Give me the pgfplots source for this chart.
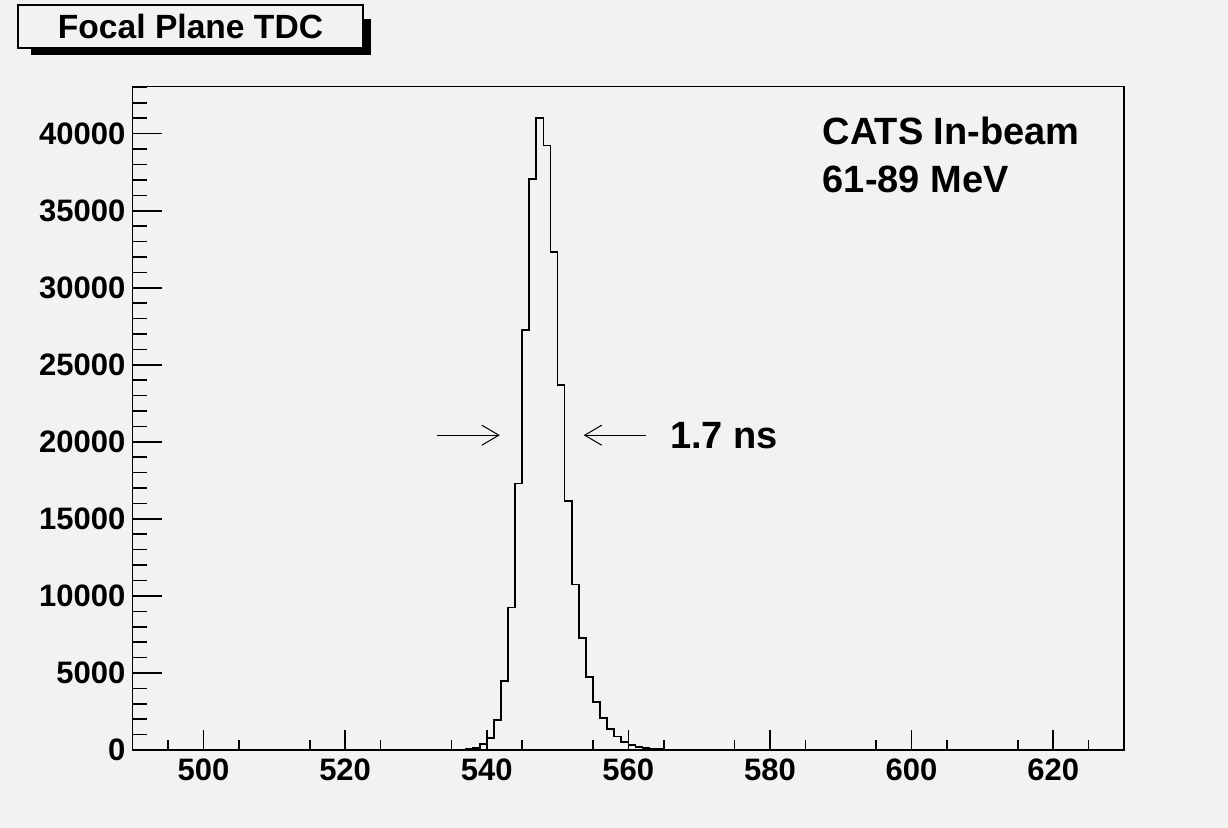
\documentclass[border=0pt]{standalone}
\usepackage{pgfplots}
\pgfplotsset{compat=1.18}
\usepackage{fontspec}
\setmainfont{Liberation Sans}
\usetikzlibrary{arrows.meta}
\definecolor{bgc}{RGB}{242,242,242}
\begin{document}
\begin{tikzpicture}
\fill[bgc] (0,0) rectangle (614pt,414pt);
% title box
\fill[black] (15.5pt,386.5pt) rectangle (185.5pt,404.5pt);
\filldraw[fill=bgc,draw=black,line width=0.6pt] (9pt,390pt) rectangle (181.5pt,411.5pt);
\node[font=\bfseries\fontsize{16.8}{19}\selectfont] at (95.25pt,400.75pt) {Focal Plane TDC};
\begin{axis}[
  at={(66.35pt,39pt)}, anchor=south west,
  scale only axis, width=495.65pt, height=331.65pt,
  xmin=490, xmax=630, ymin=0, ymax=43050,
  axis background/.style={fill=bgc},
  axis line style={black,line width=0.8pt},
  tick align=inside,
  xtick pos=left, ytick pos=left,
  xtick={500,520,...,620},
  minor xtick={495,505,...,625},
  ytick={0,5000,...,40000},
  minor ytick={1000,2000,...,43000},
  xtick style={black,line width=0.8pt,/pgfplots/major tick length=10pt,/pgfplots/minor tick length=5pt},
  ytick style={black,line width=0.8pt,/pgfplots/major tick length=14.5pt,/pgfplots/minor tick length=7.25pt},
  scaled y ticks=false,
  /pgf/number format/.cd, set thousands separator={}, fixed, assume math mode=true,
  /pgfplots/.cd,
  tick label style={font=\bfseries\fontsize{15.5}{18}\selectfont, inner sep=0pt},
  xticklabel style={yshift=-4pt},
  yticklabel style={xshift=-3.5pt},
  clip=false,
]
\addplot[const plot, black, line width=0.85pt] coordinates {
(490,0) (526,8) (527,12) (528,6) (529,4) (530,4) (531,5) (532,6) (533,6) (534,8) (535,12)
(536,20) (537,50) (538,120) (539,370) (540,770) (541,1950) (542,4500) (543,9250)
(544,17300) (545,27250) (546,37050) (547,41000) (548,39230) (549,32300) (550,23700)
(551,16150) (552,10750) (553,7250) (554,4750) (555,3100) (556,2070) (557,1370)
(558,880) (559,530) (560,320) (561,210) (562,130) (563,85) (564,50) (565,30)
(566,20) (567,12) (568,8) (569,5) (570,3) (571,0) (630,0)
};
\draw[line width=0.5pt,-{Straight Barb[length=8.5pt,width=10pt]}] (axis cs:533.0,20430) -- (axis cs:541.85,20430);
\draw[line width=0.5pt,-{Straight Barb[length=8.5pt,width=10pt]}] (axis cs:562.55,20430) -- (axis cs:553.7,20430);
\node[anchor=base west,inner sep=0pt,font=\bfseries\fontsize{19}{22}\selectfont] at (axis cs:565.85,19568) {1.7 ns};
\node[anchor=base west,inner sep=0pt,font=\bfseries\fontsize{19}{22}\selectfont] at (axis cs:587.4,39305) {CATS In-beam};
\node[anchor=base west,inner sep=0pt,font=\bfseries\fontsize{19}{22}\selectfont] at (axis cs:587.4,36211) {61-89 MeV};
\end{axis}
\end{tikzpicture}
\end{document}
